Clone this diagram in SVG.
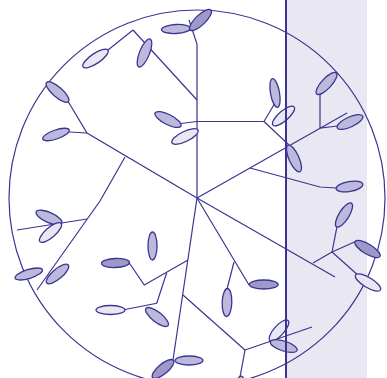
<svg xmlns="http://www.w3.org/2000/svg" width="387" height="378" viewBox="0 0 387 378">
<style>
.ln{fill:none;stroke:#3b3590;stroke-width:1.2;stroke-linejoin:miter}
.lf{stroke:#3b3590;stroke-width:1.3}
.l{fill:#e8e7f3}
.m{fill:#bcb9dc}
.d{fill:#9d99c9}
</style>
<rect x="286" y="0" width="81" height="378" fill="#e8e7f2"/>
<circle cx="197" cy="198" r="188" class="ln"/>
<g id="connectors" class="ln">
<polyline points="197,198 197,44 189,20"/>
<line x1="133" y1="30" x2="197" y2="100"/>
<line x1="133" y1="30" x2="108" y2="50"/>
<polyline points="181,123.5 197,121.5 264,121.5"/>
<line x1="264" y1="121.5" x2="275" y2="103"/>
<line x1="264" y1="121.5" x2="289" y2="145"/>
<line x1="197" y1="198" x2="347" y2="113"/>
<polyline points="320,93 320,128 337.7,126"/>
<polyline points="250,168 320,187 336,188"/>
<line x1="197" y1="198" x2="335" y2="277"/>
<line x1="313" y1="263" x2="332" y2="252"/>
<line x1="332" y1="252" x2="337" y2="226.7"/>
<line x1="332" y1="252" x2="355" y2="241.7"/>
<line x1="332" y1="252" x2="356.7" y2="274"/>
<line x1="197" y1="198" x2="249" y2="285"/>
<line x1="234" y1="262" x2="227.3" y2="288"/>
<line x1="197" y1="198" x2="173" y2="360"/>
<line x1="183" y1="295" x2="245" y2="350"/>
<line x1="245" y1="350" x2="312" y2="327"/>
<line x1="245" y1="350" x2="240" y2="377"/>
<polyline points="197,198 87,133 68.3,101.7"/>
<line x1="87" y1="133" x2="69.3" y2="132"/>
<polyline points="125,157 100,201 37,290"/>
<line x1="17" y1="230" x2="87" y2="219"/>
<polyline points="188,260 144.3,285 129.3,263"/>
<polyline points="166.7,272.7 156.7,303.3 125,309.5"/>
</g>
<g id="n1"><ellipse class="lf m" cx="176" cy="29" rx="14.5" ry="4.5" transform="rotate(-3 176 29)"/></g>
<g id="n2"><ellipse class="lf d" cx="200.5" cy="20" rx="14.5" ry="5" transform="rotate(-44 200.5 20)"/></g>
<g id="n3"><ellipse class="lf l" cx="95.5" cy="58.5" rx="15" ry="5" transform="rotate(-34 95.5 58.5)"/></g>
<g id="n4"><ellipse class="lf m" cx="144.5" cy="53" rx="15" ry="5" transform="rotate(-68 144.5 53)"/></g>
<g id="n5"><ellipse class="lf m" cx="57.5" cy="92" rx="14.5" ry="5" transform="rotate(41 57.5 92)"/></g>
<g id="n6"><ellipse class="lf m" cx="56" cy="134.5" rx="14" ry="4.5" transform="rotate(-19 56 134.5)"/></g>
<g id="n7"><ellipse class="lf m" cx="168" cy="119.5" rx="14.5" ry="5" transform="rotate(27 168 119.5)"/></g>
<g id="n8"><ellipse class="lf l" cx="185" cy="136.5" rx="14.5" ry="5" transform="rotate(-26 185 136.5)"/></g>
<g id="n9"><ellipse class="lf m" cx="275" cy="93" rx="14.5" ry="4.5" transform="rotate(80 275 93)"/></g>
<g id="n10"><ellipse class="lf l" cx="283.5" cy="116" rx="14" ry="5" transform="rotate(-41 283.5 116)"/></g>
<g id="n11"><ellipse class="lf m" cx="294" cy="158.5" rx="14.5" ry="5" transform="rotate(66 294 158.5)"/></g>
<g id="n12"><ellipse class="lf m" cx="326.5" cy="83.5" rx="14.3" ry="5" transform="rotate(-47 326.5 83.5)"/></g>
<g id="n13"><ellipse class="lf m" cx="350" cy="122" rx="14" ry="5" transform="rotate(-25 350 122)"/></g>
<g id="n14"><ellipse class="lf m" cx="349.5" cy="186.5" rx="13.5" ry="5" transform="rotate(-10 349.5 186.5)"/></g>
<g id="n15"><ellipse class="lf m" cx="344" cy="215" rx="14" ry="5" transform="rotate(-58 344 215)"/></g>
<g id="n16"><ellipse class="lf d" cx="367.5" cy="249" rx="14.5" ry="5" transform="rotate(31 367.5 249)"/></g>
<g id="n17"><ellipse class="lf l" cx="368" cy="282.5" rx="14.5" ry="5" transform="rotate(31 368 282.5)"/></g>
<g id="n18"><ellipse class="lf d" cx="263.7" cy="284.5" rx="14.5" ry="4.5"/></g>
<g id="n19"><ellipse class="lf m" cx="227" cy="302.5" rx="14" ry="4.8" transform="rotate(92 227 302.5)"/></g>
<g id="n20"><ellipse class="lf l" cx="279" cy="330.5" rx="13.5" ry="5" transform="rotate(-48 279 330.5)"/></g>
<g id="n21"><ellipse class="lf m" cx="283.7" cy="346" rx="14" ry="5" transform="rotate(18 283.7 346)"/></g>
<g id="n22"><ellipse class="lf d" cx="163" cy="369" rx="13.5" ry="5" transform="rotate(-40 163 369)"/></g>
<g id="n23"><ellipse class="lf m" cx="189" cy="360.5" rx="14" ry="4.5"/></g>
<g id="n24"><ellipse class="lf m" cx="239" cy="390" rx="14" ry="5" transform="rotate(-80 239 390)"/></g>
<g id="n25"><ellipse class="lf m" cx="49" cy="217.5" rx="14" ry="5" transform="rotate(24 49 217.5)"/></g>
<g id="n26"><ellipse class="lf l" cx="50.5" cy="232.5" rx="14" ry="5" transform="rotate(-41 50.5 232.5)"/></g>
<g id="n27"><ellipse class="lf m" cx="28.7" cy="274" rx="14.3" ry="4.5" transform="rotate(-17 28.7 274)"/></g>
<g id="n28"><ellipse class="lf m" cx="57.5" cy="274" rx="14" ry="5" transform="rotate(-40 57.5 274)"/></g>
<g id="n29"><ellipse class="lf d" cx="115.5" cy="263" rx="14" ry="4.5" transform="rotate(-2 115.5 263)"/></g>
<g id="n30"><ellipse class="lf l" cx="110.5" cy="310" rx="14.5" ry="4.5"/></g>
<g id="n31"><ellipse class="lf m" cx="157" cy="317" rx="14" ry="5" transform="rotate(38 157 317)"/></g>
<g id="n32"><ellipse class="lf m" cx="152.5" cy="246" rx="14" ry="4.5" transform="rotate(90 152.5 246)"/></g>
<line x1="286" y1="0" x2="286" y2="378" stroke="#3b3590" stroke-width="2"/>
</svg>
